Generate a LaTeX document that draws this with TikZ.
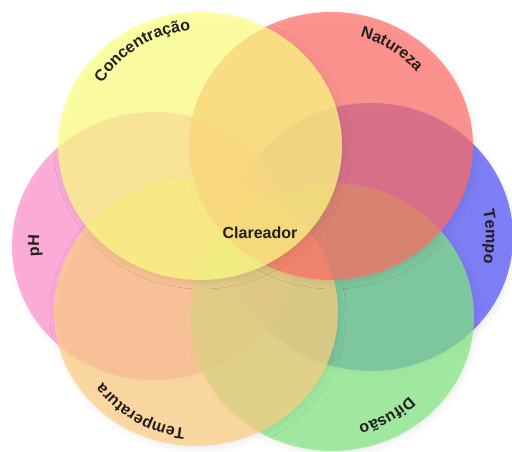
\documentclass[tikz,border=0pt]{standalone}
\usepackage{fontspec}
\setmainfont{Liberation Sans}
\usetikzlibrary{shapes.geometric,decorations.text,shadows.blur}

\definecolor{concfill}{RGB}{255,255,131}
\definecolor{natfill}{RGB}{255,110,103}
\definecolor{tempofill}{RGB}{82,82,249}
\definecolor{diffill}{RGB}{131,231,131}
\definecolor{tempfill}{RGB}{255,207,131}
\definecolor{phfill}{RGB}{255,145,207}
\definecolor{labelcol}{RGB}{34,30,30}

\newcommand\vennfont{\fontsize{16}{19}\selectfont\bfseries}

\begin{document}
\begin{tikzpicture}[x=1pt, y=1pt,
    vennset/.style={ellipse, minimum width=284pt, minimum height=268pt, inner sep=0pt,
        fill opacity=0.72, blur shadow={shadow xshift=2pt, shadow yshift=-3pt,
        shadow blur radius=6pt, shadow blur steps=8, shadow opacity=10}},
    arclabel/.style={decorate, decoration={text along path, text align=center,
        text color=labelcol, text={|\vennfont|#1}}}
]
    \useasboundingbox (0,0) rectangle (512,452);

    % outer sets, bottom to top
    \node[vennset, fill=tempofill] (tempo) at (371,215) {};
    \node[vennset, fill=phfill] (ph) at (154,206) {};
    \node[vennset, fill=diffill] (dif) at (332,135) {};
    \node[vennset, fill=tempfill] (temp) at (196,140) {};
    \node[vennset, fill=natfill] (nat) at (331,306) {};
    \node[vennset, fill=concfill] (conc) at (200,306) {};

    % labels along the rims
    \path[arclabel=Concentração] (conc.center) ++(176:116) arc[start angle=176, end angle=66, radius=116];
    \path[arclabel=Natureza] (nat.center) ++(113:113) arc[start angle=113, end angle=3, radius=113];
    \path[arclabel=Tempo] (tempo.center) ++(55:115) arc[start angle=55, end angle=-55, radius=115];
    \path[arclabel=Difusão] (dif.center) ++(354:111) arc[start angle=354, end angle=244, radius=111];
    \path[arclabel=Temperatura] (temp.center) ++(296:117) arc[start angle=296, end angle=186, radius=117];
    \path[arclabel=pH] (ph.center) ++(235:115) arc[start angle=235, end angle=125, radius=115];

    % centre
    \node[font=\vennfont, text=labelcol] (clar) at (260,219) {Clareador};
\end{tikzpicture}
\end{document}
